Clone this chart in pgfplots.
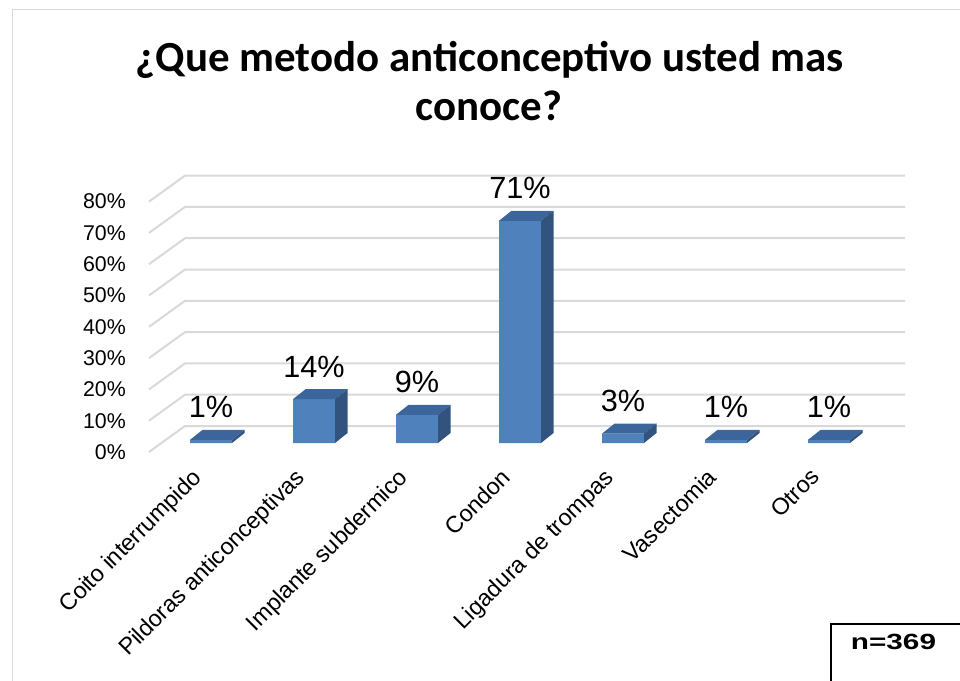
\documentclass[border=0pt]{standalone}
\usepackage{pgfplots}
\pgfplotsset{compat=1.18}
\usepackage{fontspec}
\setmainfont{Liberation Sans}
\newfontfamily\calibri{Carlito}
\definecolor{barfront}{HTML}{4F81BD}
\definecolor{bartop}{HTML}{3C659B}
\definecolor{barside}{HTML}{31537E}
\definecolor{gridc}{HTML}{D9D9D9}
\newcommand{\uy}{2.3475pt}
\pgfdeclareplotmark{box3d}{%
  \pgfpathmoveto{\pgfpoint{-15.75pt}{0pt}}%
  \pgfpathlineto{\pgfpoint{15.75pt}{0pt}}%
  \pgfpathlineto{\pgfpoint{25.15pt}{7.5pt}}%
  \pgfpathlineto{\pgfpoint{-6.35pt}{7.5pt}}%
  \pgfpathclose
  \pgfsetfillcolor{bartop}\pgfusepath{fill}%
  \pgfpathmoveto{\pgfpoint{15.75pt}{0pt}}%
  \pgfpathlineto{\pgfpoint{25.15pt}{7.5pt}}%
  \pgfpathlineto{\pgfpoint{25.15pt}{7.5pt-\val*\uy}}%
  \pgfpathlineto{\pgfpoint{15.75pt}{0pt-\val*\uy}}%
  \pgfpathclose
  \pgfsetfillcolor{barside}\pgfusepath{fill}%
}
\begin{document}
\begin{tikzpicture}
\useasboundingbox (0,0) rectangle (720pt,-510.75pt);
\begin{scope}[x=0.75pt,y=-0.75pt]
  \draw[gridc, line width=0.75pt] (12,700) -- (12,10) -- (980,10);
  \node[font=\calibri\bfseries\fontsize{32.2}{36}\selectfont, anchor=base, inner sep=0pt] at (490,72) {¿Que metodo anticonceptivo usted mas};
  \node[font=\calibri\bfseries\fontsize{32.2}{36}\selectfont, anchor=base, inner sep=0pt] at (489,121) {conoce?};
  \draw[black, line width=0.9pt] (831,700) -- (831,624) -- (980,624);
  \node[font=\bfseries\fontsize{16.5}{19}\selectfont, anchor=base, inner sep=0pt, xscale=1.35] at (893.5,649) {n=369};
\end{scope}
\begin{axis}[
  at={(159.5*0.75pt,-443*0.75pt)}, anchor=south west,
  scale only axis, width=540.75pt, height=187.8pt,
  xmin=-0.5, xmax=6.5, ymin=0, ymax=80,
  clip=false,
  axis line style={draw=none},
  major tick length=0pt,
  xtick={0,...,6},
  xticklabels={Coito interrumpido, Pildoras anticonceptivas, Implante subdermico, Condon, Ligadura de trompas, Vasectomia, Otros},
  xticklabel style={xshift=-15pt, yshift=-17.75pt, rotate=45, anchor=north east, inner sep=0pt, font=\fontsize{17.5}{20}\selectfont},
  ytick={0,10,...,80},
  yticklabels={0\%,10\%,20\%,30\%,40\%,50\%,60\%,70\%,80\%},
  yticklabel style={xshift=-25.1pt, yshift=-6.75pt, anchor=east, inner sep=0pt, font=\fontsize{16}{18}\selectfont},
]
\pgfplotsinvokeforeach{0,10,...,80}{
  \draw[gridc, line width=1.5pt] ([shift={(-7.875pt,-6.75pt)}]axis cs:-0.5,#1) -- ([shift={(19.125pt,12.75pt)}]axis cs:-0.5,#1) -- ([shift={(18.4pt,12.75pt)}]axis cs:6.5,#1);
}
\addplot[only marks, mark=box3d, visualization depends on={rawy \as \val}] coordinates {(0,1) (1,14) (2,9) (3,71) (4,3) (5,1) (6,1)};
\addplot[ybar, bar width=31.5pt, fill=barfront, draw=none,
  nodes near coords={\pgfmathprintnumber[assume math mode=true]{\pgfplotspointmeta}\%},
  every node near coord/.append style={font=\fontsize{23}{26}\selectfont, anchor=center, yshift=24.5pt, text=black}]
  coordinates {(0,1) (1,14) (2,9) (3,71) (4,3) (5,1) (6,1)};
\end{axis}
\end{tikzpicture}
\end{document}
